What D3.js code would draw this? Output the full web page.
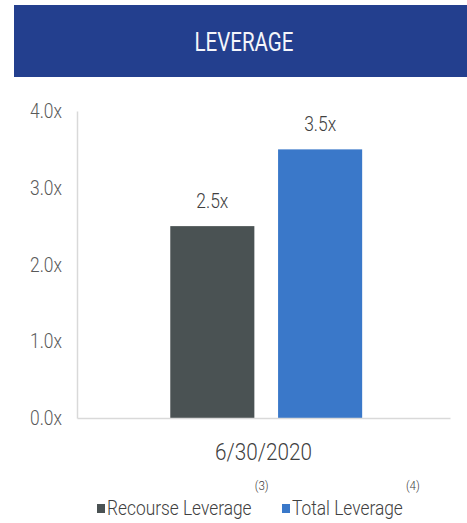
<!DOCTYPE html>
<html>
<head>
<meta charset="utf-8">
<script src="https://cdn.jsdelivr.net/npm/d3@7"></script>
<style>
  body { margin: 0; background: #fff; }
  svg { display: block; font-family: Roboto, "DejaVu Sans Condensed", sans-serif; font-weight: 300; }
</style>
</head>
<body>
<svg id="chart" width="467" height="523"></svg>
<script>
const title = "LEVERAGE";
const categories = ["6/30/2020"];
const series = ["Recourse Leverage", "Total Leverage"];
const footnotes = ["(3)", "(4)"];
const values = [2.5, 3.5];
const yTicks = [0, 1, 2, 3, 4];

const colors = d3.scaleOrdinal().domain(series).range(["#4a5253", "#3a78c9"]);

// the original uses a condensed face; squeeze Roboto horizontally
const squeeze = (sel, k) => sel.each(function () {
  const t = d3.select(this);
  const x = +t.attr("x") || 0;
  const y = +t.attr("y") || 0;
  t.attr("x", 0).attr("y", 0)
    .attr("transform", `translate(${x},${y}) scale(${k},1)`);
});

const svg = d3.select("#chart");

// header band
svg.append("rect")
  .attr("x", 14).attr("y", 5)
  .attr("width", 460).attr("height", 72)
  .attr("fill", "#233f8e");
svg.append("text")
  .attr("x", 244).attr("y", 51)
  .attr("text-anchor", "middle")
  .attr("fill", "#f4f6fb")
  .attr("font-size", 26)
  .attr("font-weight", 400)
  .text(title)
  .call(squeeze, 0.79);

const yScale = d3.scaleLinear().domain([0, 4]).range([418, 111]);
const x0 = d3.scaleBand().domain(categories).range([77, 450]);
const x1 = d3.scaleBand().domain(series)
  .range([0, x0.bandwidth()])
  .paddingInner(0.22)
  .paddingOuter(0.84)
  .align(0.515);

// y axis
const yAxis = svg.append("g")
  .attr("transform", "translate(77,0)")
  .call(d3.axisLeft(yScale).tickValues(yTicks).tickSize(0).tickPadding(15)
    .tickFormat(d => d.toFixed(1) + "x"));
yAxis.attr("font-family", null);
yAxis.select(".domain").attr("stroke", "#d9d9d9").attr("stroke-width", 1.5);
yAxis.selectAll("text")
  .attr("font-size", 21)
  .attr("fill", "#595959")
  .call(squeeze, 0.83);

// bars
const data = series.map((s, i) => ({ key: s, value: values[i] }));
const group = svg.append("g")
  .selectAll("g")
  .data(categories)
  .enter()
  .append("g")
  .attr("transform", d => `translate(${x0(d)},0)`);

group.selectAll("rect")
  .data(data)
  .enter()
  .append("rect")
  .attr("x", d => x1(d.key))
  .attr("y", d => yScale(d.value))
  .attr("width", x1.bandwidth())
  .attr("height", d => yScale(0) - yScale(d.value))
  .attr("fill", d => colors(d.key));

group.selectAll("text.value")
  .data(data)
  .enter()
  .append("text")
  .attr("class", "value")
  .attr("x", d => x1(d.key) + x1.bandwidth() / 2)
  .attr("y", d => yScale(d.value) - 18)
  .attr("text-anchor", "middle")
  .attr("font-size", 21)
  .attr("fill", "#404040")
  .text(d => d.value.toFixed(1) + "x")
  .call(squeeze, 0.83);

// x axis
const xAxis = svg.append("g")
  .attr("transform", `translate(0,${yScale(0)})`)
  .call(d3.axisBottom(x0).tickSize(0).tickSizeOuter(0).tickPadding(26));
xAxis.attr("font-family", null);
xAxis.select(".domain").attr("stroke", "#d9d9d9").attr("stroke-width", 1.5);
xAxis.selectAll("text")
  .attr("font-size", 23)
  .attr("fill", "#404040")
  .call(squeeze, 0.9);

// legend
const legendPos = [97, 282];
const kLeg = 0.89;
const legend = svg.append("g").selectAll("g")
  .data(series)
  .enter()
  .append("g")
  .attr("transform", (d, i) => `translate(${legendPos[i]},0)`);

legend.append("rect")
  .attr("x", 0).attr("y", 504)
  .attr("width", 8).attr("height", 9)
  .attr("fill", d => colors(d));

legend.append("text")
  .attr("x", 10).attr("y", 515)
  .attr("font-size", 19.5)
  .attr("fill", "#404040")
  .text(d => d)
  .each(function (d, i) {
    const w = this.getComputedTextLength() * kLeg;
    d3.select(this.parentNode).append("text")
      .attr("x", 10 + w + 3).attr("y", 490)
      .attr("font-size", 13)
      .attr("fill", "#404040")
      .text(footnotes[i])
      .call(squeeze, kLeg);
  })
  .call(squeeze, kLeg);
</script>
</body>
</html>
